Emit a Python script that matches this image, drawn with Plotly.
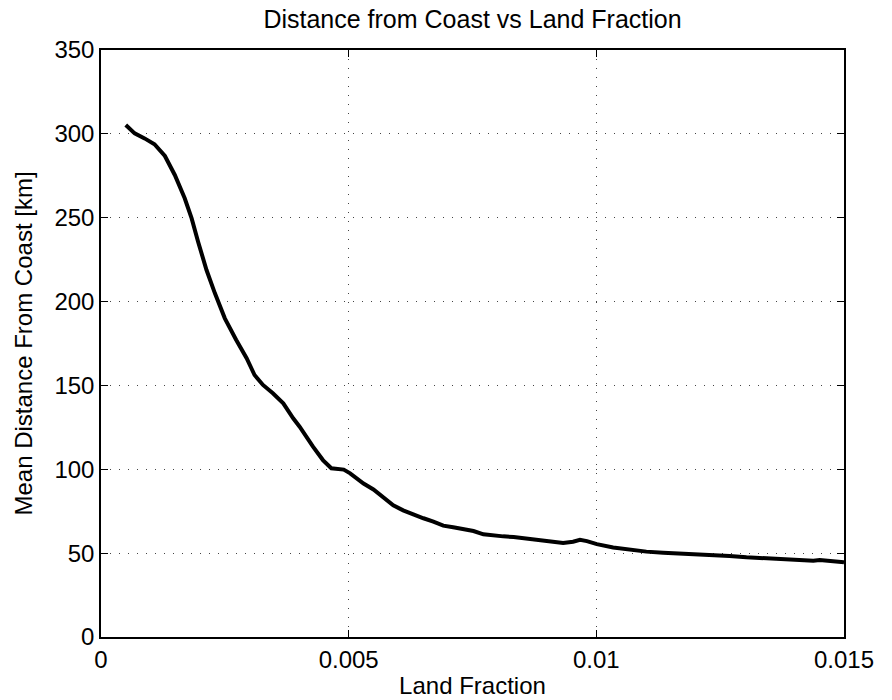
import plotly.graph_objects as go

# Land fraction vs mean distance from coast
land_fraction = [
    0.00050, 0.00068, 0.00088, 0.00108, 0.00129, 0.00149, 0.00169, 0.00183,
    0.00196, 0.00213, 0.00230, 0.00250, 0.00273, 0.00294, 0.00310, 0.00327,
    0.00347, 0.00368, 0.00388, 0.00401, 0.00428, 0.00448, 0.00465, 0.00482,
    0.00490, 0.00503, 0.00530, 0.00550, 0.00570, 0.00590, 0.00610, 0.00631,
    0.00651, 0.00671, 0.00691, 0.00711, 0.00731, 0.00752, 0.00772, 0.00792,
    0.00812, 0.00833, 0.00853, 0.00873, 0.00893, 0.00913, 0.00933, 0.00953,
    0.00967, 0.00981, 0.01001, 0.01034, 0.01067, 0.01101, 0.01135, 0.01168,
    0.01202, 0.01236, 0.01269, 0.01303, 0.01337, 0.01370, 0.01404, 0.01438,
    0.01451, 0.01471, 0.01500,
]
mean_distance_km = [
    305.3, 300.3, 297.3, 293.8, 286.8, 275.5, 261.6, 249.6,
    235.7, 218.8, 204.9, 190.0, 177.1, 166.2, 156.2, 150.3,
    145.3, 139.3, 130.4, 125.4, 113.5, 105.5, 100.6, 100.2,
    99.8, 97.6, 91.5, 88.0, 83.0, 78.5, 75.5, 72.8,
    70.8, 68.8, 66.4, 65.4, 64.2, 63.2, 61.2, 60.4,
    60.0, 59.6, 58.8, 58.0, 57.4, 56.5, 56.0, 56.8,
    58.0, 57.2, 55.4, 53.4, 51.9, 50.9, 50.3, 49.9,
    49.4, 49.1, 48.3, 47.5, 46.9, 46.7, 45.9, 45.5,
    45.9, 45.5, 44.5,
]

x_ticks = [0, 0.005, 0.01, 0.015]
x_tick_text = ["0", "0.005", "0.01", "0.015"]
y_ticks = [0, 50, 100, 150, 200, 250, 300, 350]

FONT = "Liberation Sans, Arial, Helvetica, sans-serif"

fig = go.Figure()
fig.add_trace(go.Scatter(
    x=land_fraction, y=mean_distance_km, mode="lines",
    line=dict(color="black", width=4),
    showlegend=False, hoverinfo="skip",
))

axis_common = dict(
    showline=True, linecolor="black", linewidth=1.5, mirror="ticks",
    ticks="inside", ticklen=7, tickwidth=1, tickcolor="black",
    showgrid=True, gridcolor="#444444", gridwidth=1, griddash="1px,8px",
    zeroline=False, automargin=False,
    tickfont=dict(family=FONT, size=24, color="black"),
)

fig.update_layout(
    width=892, height=700,
    margin=dict(l=101, r=48, t=50, b=63),
    paper_bgcolor="white", plot_bgcolor="white",
    font=dict(family=FONT, color="black"),
    title=dict(
        text="Distance from Coast vs Land Fraction",
        font=dict(family=FONT, size=25, color="black"),
        x=0.5, xanchor="center", xref="paper",
        y=0.972, yanchor="middle", yref="container",
    ),
    xaxis=dict(
        range=[0, 0.015], tickvals=x_ticks, ticktext=x_tick_text,
        title=dict(text="Land Fraction", font=dict(family=FONT, size=24),
                   standoff=6),
        **axis_common,
    ),
    yaxis=dict(
        range=[0, 350], tickvals=y_ticks,
        title=dict(text="Mean Distance From Coast [km]",
                   font=dict(family=FONT, size=24), standoff=15),
        **axis_common,
    ),
)

fig.write_html("out.html")
